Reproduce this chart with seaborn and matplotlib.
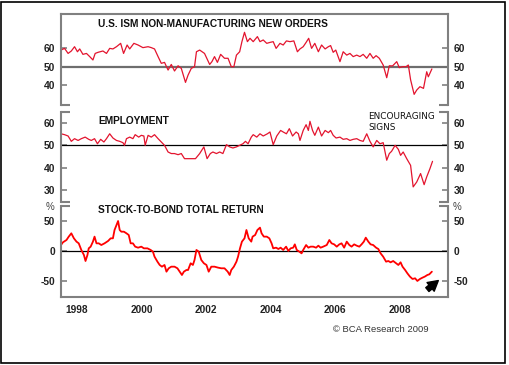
import matplotlib
matplotlib.use('Agg')
import matplotlib.pyplot as plt
from matplotlib.patches import Rectangle, FancyArrowPatch
import pandas as pd
import seaborn as sns

# ISM non-manufacturing new orders
ism_years = [1998.00, 1998.11, 1998.22, 1998.32, 1998.42, 1998.51, 1998.58, 1998.68, 1998.79, 1998.89,
             1998.99, 1999.06, 1999.15, 1999.30, 1999.41, 1999.51, 1999.61, 1999.72, 1999.85, 1999.94,
             2000.05, 2000.13, 2000.26, 2000.39, 2000.54, 2000.70, 2000.80, 2000.90, 2001.01, 2001.11,
             2001.21, 2001.32, 2001.42, 2001.52, 2001.63, 2001.73, 2001.86, 2001.94, 2002.04, 2002.14,
             2002.20, 2002.30, 2002.45, 2002.61, 2002.68, 2002.76, 2002.85, 2002.95, 2003.07, 2003.18,
             2003.28, 2003.36, 2003.44, 2003.54, 2003.61, 2003.69, 2003.78, 2003.86, 2003.96, 2004.09,
             2004.17, 2004.27, 2004.38, 2004.48, 2004.58, 2004.67, 2004.79, 2004.89, 2004.99, 2005.10,
             2005.22, 2005.33, 2005.41, 2005.51, 2005.60, 2005.68, 2005.77, 2005.87, 2005.98, 2006.08,
             2006.19, 2006.29, 2006.36, 2006.44, 2006.52, 2006.65, 2006.75, 2006.86, 2006.96, 2007.06,
             2007.17, 2007.27, 2007.37, 2007.48, 2007.58, 2007.68, 2007.77, 2007.87, 2007.99, 2008.10,
             2008.18, 2008.28, 2008.41, 2008.49, 2008.59, 2008.70, 2008.77, 2008.84, 2008.95, 2009.03,
             2009.13, 2009.24, 2009.34, 2009.39, 2009.50]
ism_orders = [58.9, 59.8, 57.1, 58.4, 60.7, 58.0, 59.5, 56.6, 57.1, 55.4,
              53.6, 57.1, 57.7, 58.4, 57.1, 59.8, 59.5, 60.7, 62.5, 57.1,
              61.6, 59.5, 62.5, 61.6, 60.2, 60.7, 60.2, 59.5, 55.4, 51.8,
              52.3, 48.2, 51.2, 47.7, 50.5, 49.1, 41.6, 45.5, 49.1, 50.0,
              58.0, 58.9, 57.1, 51.2, 52.7, 55.4, 52.3, 56.6, 54.5, 54.5,
              50.0, 50.0, 56.2, 58.0, 63.4, 68.4, 63.4, 65.2, 63.4, 66.1,
              63.4, 64.3, 62.5, 63.0, 63.4, 59.8, 62.5, 61.6, 63.8, 63.4,
              63.8, 58.0, 59.5, 60.7, 63.0, 65.2, 59.8, 62.5, 58.0, 61.6,
              59.5, 60.7, 61.3, 57.7, 58.9, 52.7, 58.0, 56.2, 57.1, 55.4,
              56.2, 55.4, 56.6, 54.5, 57.1, 54.5, 55.9, 54.5, 50.9, 44.1,
              50.5, 50.4, 52.7, 49.5, 50.0, 50.0, 50.9, 43.0, 35.2, 37.5,
              39.3, 38.4, 47.3, 44.6, 48.8]

# ISM non-manufacturing employment
emp_years = [1998.00, 1998.11, 1998.22, 1998.32, 1998.42, 1998.53, 1998.63, 1998.75, 1998.86, 1998.94,
             1999.04, 1999.13, 1999.23, 1999.33, 1999.41, 1999.51, 1999.61, 1999.72, 1999.82, 1999.92,
             1999.97, 2000.03, 2000.13, 2000.23, 2000.30, 2000.41, 2000.49, 2000.57, 2000.61, 2000.70,
             2000.80, 2000.90, 2001.01, 2001.11, 2001.21, 2001.32, 2001.42, 2001.52, 2001.63, 2001.73,
             2001.83, 2001.94, 2002.04, 2002.17, 2002.30, 2002.43, 2002.53, 2002.63, 2002.71, 2002.82,
             2002.92, 2003.02, 2003.13, 2003.23, 2003.33, 2003.44, 2003.54, 2003.64, 2003.72, 2003.80,
             2003.90, 2003.96, 2004.07, 2004.17, 2004.27, 2004.40, 2004.48, 2004.58, 2004.69, 2004.81,
             2004.89, 2004.99, 2005.08, 2005.18, 2005.29, 2005.36, 2005.41, 2005.51, 2005.60, 2005.67,
             2005.72, 2005.80, 2005.87, 2005.98, 2006.08, 2006.19, 2006.29, 2006.36, 2006.44, 2006.53,
             2006.65, 2006.75, 2006.86, 2006.96, 2007.06, 2007.17, 2007.27, 2007.37, 2007.48, 2007.58,
             2007.68, 2007.79, 2007.89, 2007.99, 2008.10, 2008.18, 2008.25, 2008.36, 2008.46, 2008.53,
             2008.61, 2008.72, 2008.84, 2008.92, 2009.03, 2009.15, 2009.26, 2009.34, 2009.44, 2009.52]
employment = [55.2, 54.8, 54.2, 51.8, 53.0, 52.2, 53.0, 53.7, 52.7, 52.2,
              53.0, 50.7, 52.7, 51.5, 53.0, 55.2, 53.3, 52.2, 51.8, 51.2,
              50.0, 53.0, 53.7, 53.0, 54.8, 53.7, 54.5, 54.2, 50.0, 54.5,
              53.7, 54.8, 53.0, 51.5, 50.0, 47.0, 46.3, 46.3, 45.8, 46.3,
              44.0, 44.0, 44.0, 44.0, 46.3, 49.3, 44.0, 46.3, 47.0, 46.3,
              47.0, 46.3, 50.3, 49.3, 48.8, 49.3, 50.0, 50.7, 51.8, 50.7,
              53.7, 54.8, 53.7, 55.2, 54.2, 55.2, 56.0, 50.3, 54.2, 56.7,
              56.0, 55.2, 57.5, 54.2, 56.0, 55.2, 52.2, 56.7, 59.3, 56.7,
              60.8, 56.7, 54.5, 58.2, 54.2, 56.7, 55.7, 56.7, 54.5, 53.3,
              53.7, 52.7, 53.0, 52.2, 52.7, 53.0, 52.2, 51.8, 55.2, 51.8,
              49.3, 52.2, 50.7, 51.2, 43.3, 46.3, 47.3, 50.0, 48.2, 45.5,
              47.0, 44.0, 41.0, 31.3, 33.5, 37.3, 32.3, 35.8, 39.5, 42.8]

# Stock-to-bond total return, %
sb_years = [1998.00, 1998.06, 1998.17, 1998.24, 1998.32, 1998.40, 1998.48, 1998.55, 1998.63, 1998.71,
            1998.76, 1998.82, 1998.86, 1998.92, 1998.99, 1999.04, 1999.10, 1999.17, 1999.25, 1999.35,
            1999.46, 1999.54, 1999.61, 1999.66, 1999.72, 1999.77, 1999.82, 1999.87, 1999.95, 2000.03,
            2000.10, 2000.16, 2000.23, 2000.30, 2000.39, 2000.49, 2000.57, 2000.68, 2000.78, 2000.85,
            2000.90, 2000.99, 2001.06, 2001.13, 2001.21, 2001.27, 2001.34, 2001.42, 2001.52, 2001.61,
            2001.68, 2001.75, 2001.81, 2001.89, 2001.94, 2002.02, 2002.09, 2002.14, 2002.20, 2002.27,
            2002.35, 2002.43, 2002.51, 2002.58, 2002.66, 2002.76, 2002.87, 2002.97, 2003.07, 2003.17,
            2003.23, 2003.28, 2003.36, 2003.44, 2003.49, 2003.55, 2003.61, 2003.69, 2003.75, 2003.82,
            2003.90, 2003.94, 2004.02, 2004.09, 2004.17, 2004.22, 2004.29, 2004.38, 2004.46, 2004.53,
            2004.58, 2004.67, 2004.74, 2004.81, 2004.89, 2004.98, 2005.05, 2005.12, 2005.20, 2005.25,
            2005.31, 2005.39, 2005.46, 2005.51, 2005.60, 2005.67, 2005.74, 2005.82, 2005.91, 2005.98,
            2006.05, 2006.13, 2006.24, 2006.32, 2006.39, 2006.47, 2006.55, 2006.63, 2006.70, 2006.78,
            2006.86, 2006.94, 2007.01, 2007.09, 2007.17, 2007.25, 2007.32, 2007.39, 2007.45, 2007.53,
            2007.60, 2007.68, 2007.77, 2007.84, 2007.91, 2007.99, 2008.08, 2008.15, 2008.22, 2008.30,
            2008.39, 2008.46, 2008.53, 2008.59, 2008.67, 2008.74, 2008.82, 2008.90, 2008.98, 2009.05,
            2009.13, 2009.21, 2009.28, 2009.36, 2009.42, 2009.50]
stock_bond = [9.9, 14.4, 18.2, 23.8, 29.3, 21.0, 15.5, 12.7, 1.7, -6.6,
              -16.6, -6.6, 4.4, 7.2, 15.5, 23.8, 12.7, 12.7, 9.9, 12.7,
              16.6, 21.0, 21.0, 34.8, 43.1, 49.7, 34.8, 32.0, 32.0, 29.3,
              26.5, 12.7, 12.7, 7.2, 5.5, 7.2, 4.4, 4.4, 1.7, -1.1,
              -9.4, -17.7, -23.2, -26.0, -23.2, -34.3, -28.7, -26.0, -26.0, -28.7,
              -34.3, -39.8, -34.3, -31.5, -31.5, -20.4, -23.2, -14.9, 1.7, -1.1,
              -14.9, -20.4, -23.2, -34.3, -26.0, -26.0, -27.6, -28.7, -28.7, -34.3,
              -39.8, -31.5, -26.0, -17.7, -9.4, 4.4, 15.5, 21.0, 34.8, 21.0,
              15.5, 23.8, 26.5, 34.8, 38.7, 29.3, 23.8, 23.8, 21.0, 12.7,
              4.4, 5.5, 3.3, 5.5, 1.7, 7.2, 0.0, 4.4, 5.5, 11.0,
              1.7, -1.1, -3.9, 1.7, 9.9, 5.5, 7.2, 7.2, 5.5, 8.8,
              5.5, 7.2, 9.9, 18.2, 12.7, 11.0, 7.2, 11.0, 12.7, 5.5,
              15.5, 9.9, 7.2, 11.0, 8.8, 7.2, 11.0, 15.5, 22.1, 15.5,
              11.0, 9.9, 5.5, 3.3, -3.9, -9.4, -17.7, -16.6, -18.8, -16.6,
              -20.4, -23.2, -18.8, -26.0, -31.5, -37.0, -42.5, -46.4, -45.3, -49.7,
              -46.4, -44.2, -42.5, -39.8, -38.7, -34.3]

year_labels = ['1998', '2000', '2002', '2004', '2006', '2008']

sns.set_style('white')
plt.rcParams['font.family'] = ['Liberation Sans', 'DejaVu Sans']

GREY = '#808080'
W, H = 510, 365


def rect(top_px, bottom_px):
    left, right = 61, 448
    return [left / W, 1 - bottom_px / H, (right - left) / W, (bottom_px - top_px) / H]


fig = plt.figure(figsize=(W / 100, H / 100), dpi=100)

panels = [
    dict(rect=rect(14, 105), ylim=(29.5, 78.2), yticks=[40, 50, 60],
         x=ism_years, y=ism_orders, color='#e3142e', lw=0.9,
         ref=50, ref_color='#6e6e6e', ref_lw=1.6,
         title='U.S. ISM NON-MANUFACTURING NEW ORDERS', ty=0.89),
    dict(rect=rect(112, 202), ylim=(24.5, 65.0), yticks=[30, 40, 50, 60],
         x=emp_years, y=employment, color='#e3142e', lw=0.9,
         ref=50, ref_color='black', ref_lw=0.9,
         title='EMPLOYMENT', ty=0.90),
    dict(rect=rect(206, 297), ylim=(-76.3, 74.6), yticks=[-50, 0, 50],
         x=sb_years, y=stock_bond, color='#ff0000', lw=1.3,
         ref=0, ref_color='black', ref_lw=0.9,
         title='STOCK-TO-BOND TOTAL RETURN', ty=0.956),
]

axes = []
for i, p in enumerate(panels):
    ax = fig.add_axes(p['rect'])
    axes.append(ax)
    ax.axhline(p['ref'], color=p['ref_color'], lw=p['ref_lw'], zorder=1)
    sns.lineplot(x=p['x'], y=p['y'], ax=ax, color=p['color'], lw=p['lw'],
                 estimator=None, zorder=2)
    ax.set_xlim(1998, 2010)
    ax.set_ylim(*p['ylim'])
    ax.set_yticks(p['yticks'])
    ax.set_yticklabels([str(v) for v in p['yticks']])
    ax.set_xlabel('')
    ax.set_ylabel('')
    ax.tick_params(axis='y', direction='in', length=4, width=1.2, color=GREY,
                   left=True, right=True, labelleft=True, labelright=True,
                   labelsize=7.4, labelcolor='#222222', pad=4)
    for t in ax.yaxis.get_major_ticks():
        t.label1.set_fontweight('bold')
        t.label2.set_fontweight('bold')
    for side in ['left', 'right', 'top', 'bottom']:
        ax.spines[side].set_color(GREY)
        ax.spines[side].set_linewidth(1.5)
    ax.spines['top'].set_visible(i == 0)
    ax.spines['bottom'].set_visible(i == 2)
    # little stubs where a panel ends without a full spine
    stub = 9 / 387
    ends = []
    if i != 0:
        ends.append(1)
    if i != 2:
        ends.append(0)
    for yy in ends:
        ax.plot([0, stub], [yy, yy], transform=ax.transAxes, color=GREY, lw=1.5,
                clip_on=False, solid_capstyle='butt')
        ax.plot([1 - stub, 1], [yy, yy], transform=ax.transAxes, color=GREY, lw=1.5,
                clip_on=False, solid_capstyle='butt')
    ax.text(0.0956, p['ty'], p['title'], transform=ax.transAxes, fontsize=7.3,
            fontweight='bold', color='#111111', ha='left', va='center')
    if i < 2:
        ax.set_xticks([])
        ax.tick_params(axis='x', bottom=False, labelbottom=False)

ax3 = axes[2]
ax3.set_xticks(range(1999, 2010))
ax3.set_xticklabels([])
ax3.set_xticks([1998.5 + 2 * k for k in range(len(year_labels))], minor=True)
ax3.set_xticklabels(year_labels, minor=True, fontweight='bold')
ax3.tick_params(axis='x', which='major', direction='in', length=7, width=1.2, color=GREY)
ax3.tick_params(axis='x', which='minor', length=0, labelsize=7.3, labelcolor='#222222', pad=6)

ax3.text(-0.028, 0.99, '%', transform=ax3.transAxes, fontsize=7, color='#444444',
         ha='center', va='center')
ax3.text(1.024, 0.99, '%', transform=ax3.transAxes, fontsize=7, color='#444444',
         ha='center', va='center')

axes[1].text(0.793, 1.0, 'ENCOURAGING\nSIGNS', transform=axes[1].transAxes,
             fontsize=6.4, family='DejaVu Sans', color='#111111',
             ha='left', va='top', linespacing=1.25)

arrow = FancyArrowPatch((2009.36, -64), (2009.70, -49), shrinkA=0, shrinkB=0,
                        arrowstyle='simple,head_length=0.8,head_width=0.9,tail_width=0.4',
                        mutation_scale=9, color='black', clip_on=False, zorder=5)
ax3.add_patch(arrow)

fig.text(333 / W, 1 - 330 / H, '\u00a9 BCA Research 2009', fontsize=6.8,
         color='#333333', ha='left', va='center')

fig.add_artist(Rectangle((1.5 / W, 2 / H), 504 / W, 361.5 / H, transform=fig.transFigure,
                         fill=False, ec='black', lw=1.2))

fig.savefig('out.png', dpi=100)
